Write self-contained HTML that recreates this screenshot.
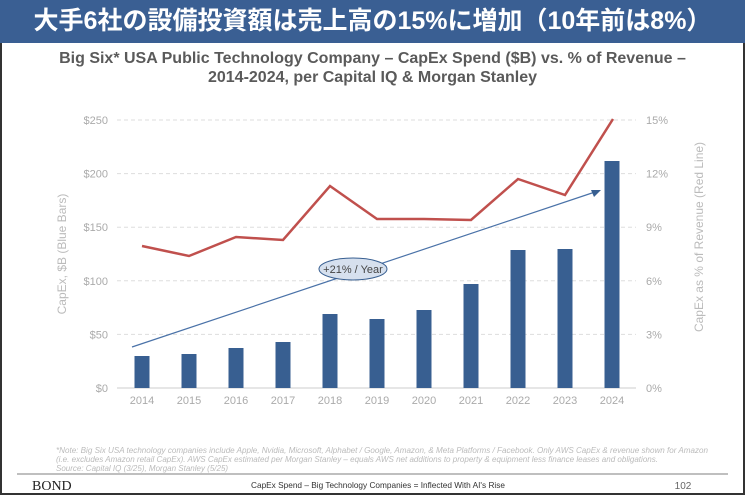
<!DOCTYPE html>
<html><head><meta charset="utf-8"><style>
body{margin:0;width:745px;height:497px;overflow:hidden;background:#fff;font-family:"Liberation Sans","Noto Sans CJK JP",sans-serif}
.frame{position:absolute;left:0;top:0;width:741px;height:493px;border:2px solid #333;border-top:none;}
.hdr{position:absolute;left:0;top:0;width:745px;height:43px;background:#3a5f93;color:#fff;font-size:25px;font-weight:bold;text-align:center;line-height:43px;font-family:"Liberation Sans","Noto Sans CJK JP",sans-serif}
.t{position:absolute;left:0;width:745px;text-align:center;color:#5a5a5a;font-weight:bold;font-size:16px}
</style></head><body>
<div class="frame"></div>
<div class="hdr">大手6社の設備投資額は売上高の15%に増加（10年前は8%）</div>
<div class="t" style="top:50px">Big Six* USA Public Technology Company – CapEx Spend ($B) vs. % of Revenue –</div>
<div class="t" style="top:69px">2014-2024, per Capital IQ &amp; Morgan Stanley</div>
<svg width="745" height="497" style="position:absolute;left:0;top:0" font-family="Liberation Sans, sans-serif">
<g stroke="#ddd" stroke-dasharray="4,3" stroke-width="1">
<line x1="117" x2="636" y1="120" y2="120"/><line x1="117" x2="636" y1="173.6" y2="173.6"/><line x1="117" x2="636" y1="227.2" y2="227.2"/><line x1="117" x2="636" y1="280.8" y2="280.8"/><line x1="117" x2="636" y1="334.4" y2="334.4"/>
</g>
<line x1="117" x2="636" y1="388" y2="388" stroke="#ccc"/>
<g font-size="11" fill="#aaa" text-anchor="end">
<text x="108" y="124">$250</text><text x="108" y="177.6">$200</text><text x="108" y="231.2">$150</text><text x="108" y="284.8">$100</text><text x="108" y="338.4">$50</text><text x="108" y="392">$0</text>
</g>
<g font-size="11" fill="#aaa">
<text x="646" y="124">15%</text><text x="646" y="177.6">12%</text><text x="646" y="231.2">9%</text><text x="646" y="284.8">6%</text><text x="646" y="338.4">3%</text><text x="646" y="392">0%</text>
</g>
<text transform="translate(66,254) rotate(-90)" font-size="12" fill="#bbb" text-anchor="middle">CapEx, $B (Blue Bars)</text>
<text transform="translate(703,237) rotate(-90)" font-size="12" fill="#bbb" text-anchor="middle">CapEx as % of Revenue (Red Line)</text>
<g fill="#385f91">
<rect x="134.5" y="356" width="15" height="32"/>
<rect x="181.5" y="354" width="15" height="34"/>
<rect x="228.5" y="348" width="15" height="40"/>
<rect x="275.5" y="342" width="15" height="46"/>
<rect x="322.5" y="314" width="15" height="74"/>
<rect x="369.5" y="319" width="15" height="69"/>
<rect x="416.5" y="310" width="15" height="78"/>
<rect x="463.5" y="284" width="15" height="104"/>
<rect x="510.5" y="250" width="15" height="138"/>
<rect x="557.5" y="249" width="15" height="139"/>
<rect x="604.5" y="161" width="15" height="227"/>
</g>
<g font-size="11" fill="#aaa" text-anchor="middle">
<text x="142" y="404">2014</text><text x="189" y="404">2015</text><text x="236" y="404">2016</text><text x="283" y="404">2017</text><text x="330" y="404">2018</text><text x="377" y="404">2019</text><text x="424" y="404">2020</text><text x="471" y="404">2021</text><text x="518" y="404">2022</text><text x="565" y="404">2023</text><text x="612" y="404">2024</text>
</g>
<polyline fill="none" stroke="#c0504d" stroke-width="2.5" points="142,246 189,256 236,237 283,240 330,186 377,219 424,219 471,220 518,179 565,195 613,119"/>
<line x1="132" y1="347" x2="595" y2="192" stroke="#4a72a8" stroke-width="1.2"/>
<polygon points="601,190 591,190 594,197" fill="#385f91"/>
<ellipse cx="353" cy="269" rx="34" ry="11" fill="#d6e0ee" stroke="#385f91" stroke-width="1"/>
<text x="353" y="273" font-size="11" fill="#444" text-anchor="middle">+21% / Year</text>
<g font-size="8" fill="#bbb" font-style="italic">
<text x="56" y="453" textLength="652" lengthAdjust="spacingAndGlyphs">*Note: Big Six USA technology companies include Apple, Nvidia, Microsoft, Alphabet / Google, Amazon, &amp; Meta Platforms / Facebook. Only AWS CapEx &amp; revenue shown for Amazon</text>
<text x="56" y="462" textLength="602" lengthAdjust="spacingAndGlyphs">(i.e. excludes Amazon retail CapEx). AWS CapEx estimated per Morgan Stanley – equals AWS net additions to property &amp; equipment less finance leases and obligations.</text>
<text x="56" y="471">Source: Capital IQ (3/25), Morgan Stanley (5/25)</text>
</g>
<line x1="17" x2="728" y1="474" y2="474" stroke="#aaa" stroke-width="1.5"/>
<text x="32" y="490" font-family="Liberation Serif, serif" font-size="14" fill="#222">BOND</text>
<text x="251" y="488" font-size="8.5" fill="#333" textLength="254" lengthAdjust="spacingAndGlyphs">CapEx Spend – Big Technology Companies = Inflected With AI's Rise</text>
<text x="683" y="489" font-size="10" fill="#666" text-anchor="middle">102</text>
</svg>
</body></html>
